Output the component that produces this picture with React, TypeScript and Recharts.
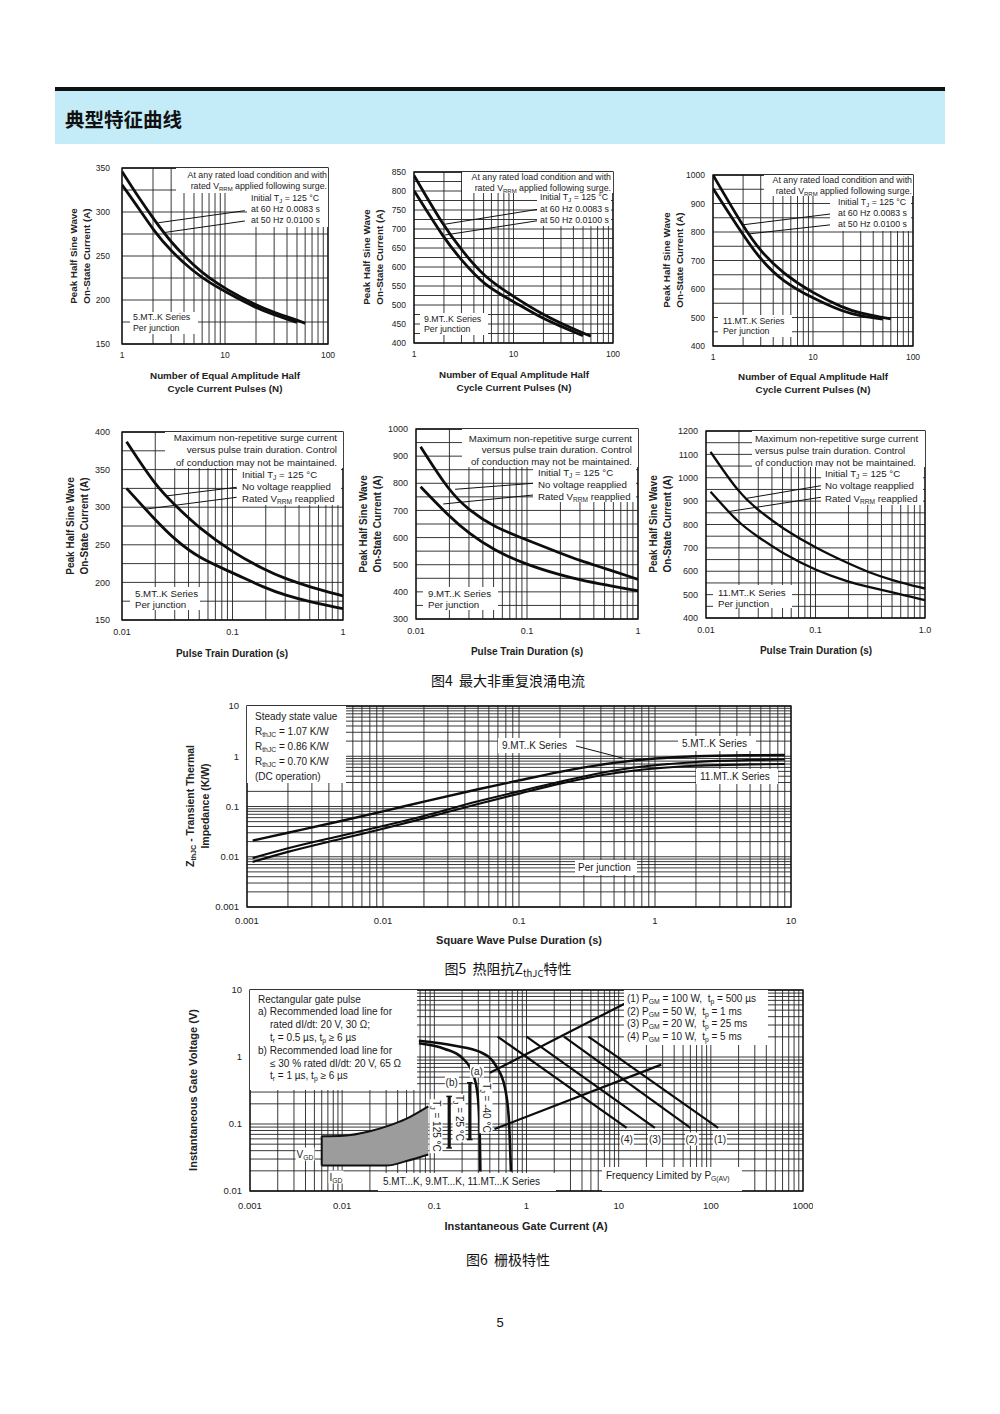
import React from 'react';
import { ComposedChart, Line, Area, XAxis, YAxis, CartesianGrid, ReferenceLine, ReferenceArea } from 'recharts';

type Pt = [number, number];

// ---- Fig 4: surge current vs number of half cycles ----
const cycleTicks = [1, 10, 100];
const mt5Cycle60: Pt[] = [[1, 346], [1.5, 314], [2, 293], [3, 265], [5, 239], [7, 225], [10, 213], [20, 194], [30, 186], [50, 177], [60, 173.5]];
const mt5Cycle50: Pt[] = [[1, 331], [1.5, 302], [2, 280], [3, 255], [5, 232], [7, 220], [10, 209.5], [20, 191], [30, 183], [50, 174.5]];
const mt9Cycle60: Pt[] = [[1, 841], [2, 706], [3, 645], [5, 575], [10, 522], [20, 474], [30, 452], [50, 426], [60, 418]];
const mt9Cycle50: Pt[] = [[1, 801], [2, 675], [3, 618], [5, 553], [10, 509], [20, 463], [30, 444], [50, 419]];
const mt11Cycle60: Pt[] = [[1, 1000], [2, 819], [3, 731], [5, 655], [10, 585], [20, 534], [30, 514], [50, 500], [60, 495]];
const mt11Cycle50: Pt[] = [[1, 953], [2, 789], [3, 702], [5, 626], [10, 567], [20, 520], [30, 505], [50, 494]];

// ---- Fig 4: surge current vs pulse train duration ----
const trainTicks = [0.01, 0.1, 1];
const mt5TrainNoV: Pt[] = [[0.011, 387], [0.02, 329], [0.03, 303], [0.05, 272], [0.1, 240], [0.2, 216], [0.3, 205], [0.5, 194], [1, 182]];
const mt5TrainRated: Pt[] = [[0.011, 325], [0.02, 283], [0.03, 257], [0.05, 232], [0.1, 213], [0.2, 192], [0.3, 183], [0.5, 174], [1, 165]];
const mt9TrainNoV: Pt[] = [[0.011, 935], [0.02, 769], [0.03, 701], [0.05, 640], [0.1, 591], [0.2, 542], [0.3, 515], [0.5, 487], [1, 446]];
const mt9TrainRated: Pt[] = [[0.011, 787], [0.02, 677], [0.03, 615], [0.05, 554], [0.1, 499], [0.2, 462], [0.3, 444], [0.5, 426], [1, 404]];
const mt11TrainNoV: Pt[] = [[0.011, 1111], [0.02, 933], [0.03, 861], [0.05, 783], [0.1, 700], [0.2, 633], [0.3, 597], [0.5, 561], [1, 526]];
const mt11TrainRated: Pt[] = [[0.011, 940], [0.02, 804], [0.03, 747], [0.05, 676], [0.1, 604], [0.2, 554], [0.3, 533], [0.5, 511], [1, 476]];

// ---- Fig 5: transient thermal impedance ----
const zthTicks = [0.001, 0.01, 0.1, 1, 10];
const zthMt5: Pt[] = [[0.0011, 0.021], [0.002, 0.03], [0.005, 0.052], [0.01, 0.08], [0.02, 0.125], [0.05, 0.22], [0.1, 0.33], [0.2, 0.49], [0.5, 0.74], [1, 0.9], [2, 1.0], [5, 1.05], [9, 1.06]];
const zthMt9: Pt[] = [[0.0011, 0.0094], [0.002, 0.0147], [0.005, 0.0265], [0.01, 0.041], [0.02, 0.065], [0.05, 0.127], [0.1, 0.2], [0.2, 0.31], [0.5, 0.52], [1, 0.66], [2, 0.77], [5, 0.84], [9, 0.86]];
const zthMt11: Pt[] = [[0.0011, 0.0079], [0.002, 0.0125], [0.005, 0.023], [0.01, 0.036], [0.02, 0.058], [0.05, 0.112], [0.1, 0.18], [0.2, 0.285], [0.5, 0.46], [1, 0.57], [2, 0.645], [5, 0.69], [9, 0.7]];

// ---- Fig 6: gate characteristics ----
const gateXTicks = [0.001, 0.01, 0.1, 1, 10, 100, 1000];
const gateYTicks = [0.01, 0.1, 1, 10];
const gateInner: Pt[] = [[0.068, 1.6], [0.13, 1.32], [0.2, 0.97], [0.256, 0.6], [0.29, 0.325], [0.308, 0.116], [0.316, 0.0196]];
const gateOuter: Pt[] = [[0.068, 1.75], [0.167, 1.47], [0.313, 1.19], [0.466, 0.74], [0.583, 0.35], [0.644, 0.116], [0.678, 0.0196]];
const gateLoadA: Pt[] = [[0.4, 0.58], [11.7, 6.3]];
const gateLoadB: Pt[] = [[0.45, 0.084], [29, 0.77]];
const gatePow1: Pt[] = [[4.7, 2.02], [120, 0.0875]];
const gatePow2: Pt[] = [[2.55, 2.02], [60, 0.0875]];
const gatePow3: Pt[] = [[1.0, 2.02], [24.7, 0.0875]];
const gatePow4: Pt[] = [[0.486, 2.02], [12.2, 0.0875]];
// x, low, high of the V_GD / I_GD region
const gdBand: [number, number, number][] = [[0.006, 0.024, 0.0656], [0.0103, 0.024, 0.0668], [0.02, 0.024, 0.078], [0.0304, 0.024, 0.092], [0.05, 0.028, 0.12], [0.086, 0.035, 0.183]];
// x, low, high of the T_J markers
const tjBars: [number, number, number][] = [[0.145, 0.044, 0.258], [0.243, 0.0586, 0.413]];

const logGrid = (lo: number, hi: number) => {
  const out: number[] = [];
  for (let e = lo; e < hi; e++) for (let k = 1; k < 10; k++) out.push(+(k * Math.pow(10, e)).toPrecision(3));
  out.push(+Math.pow(10, hi).toPrecision(3));
  return out;
};
const steps = (a: number, b: number, s: number) => {
  const out: number[] = [];
  for (let v = a; v <= b; v += s) out.push(v);
  return out;
};
const toObj = (pts: Pt[]) => pts.map(([x, y]) => ({ x, y }));

const ML = 60, MT = 6, MR = 10, MB = 26;
const INK = '#1a1a1a';

type Series = { pts: Pt[]; w: number; curve?: 'monotone' | 'linear' | 'basis' };
type PanelProps = {
  left: number; top: number; w: number; h: number;
  xDomain: [number, number]; yDomain: [number, number]; yLog?: boolean;
  xTicks: number[]; yTicks: number[]; xGrid: number[]; yGrid: number[];
  series: Series[]; leaders?: [Pt, Pt][];
  fs: number; xGap: number; yGap: number;
  xFmt?: (v: number) => string;
  band?: [number, number, number][];
  bars?: [number, number, number][];
};

function Panel(p: PanelProps) {
  const tick = { fontSize: p.fs, fill: '#222' };
  return (
    <div style={{ position: 'absolute', left: p.left - ML, top: p.top - MT }}>
      <ComposedChart width={p.w + ML + MR} height={p.h + MT + MB} margin={{ top: MT, right: MR, bottom: 0, left: 0 }}>
        <CartesianGrid horizontalValues={p.yGrid} verticalValues={p.xGrid} stroke="#222" strokeWidth={0.9} />
        <XAxis dataKey="x" type="number" scale="log" domain={p.xDomain} allowDataOverflow ticks={p.xTicks} interval={0}
          tickLine={false} axisLine={false} tickSize={6} tickMargin={p.xGap} height={MB} tick={tick} tickFormatter={p.xFmt} />
        <YAxis type="number" scale={p.yLog ? 'log' : 'linear'} domain={p.yDomain} allowDataOverflow ticks={p.yTicks} interval={0}
          tickLine={false} axisLine={false} tickSize={6} tickMargin={p.yGap} width={ML} tick={tick} />
        {p.band && (
          <Area data={p.band.map(([x, lo, hi]) => ({ x, r: [lo, hi] }))} dataKey="r" type="monotone" fill="#9c9c9c" fillOpacity={1}
            stroke="#111" strokeWidth={2} isAnimationActive={false} />
        )}
        {p.band && (
          <ReferenceLine segment={[{ x: p.band[0][0], y: p.band[0][1] }, { x: p.band[0][0], y: p.band[0][2] }]} stroke="#111" strokeWidth={2} />
        )}
        {(p.bars || []).map(([x, lo, hi], i) => (
          <ReferenceLine key={'b' + i} segment={[{ x, y: lo }, { x, y: hi }]} stroke="#111" strokeWidth={3.2} />
        ))}
        {(p.bars || []).map(([x, lo], i) => (
          <ReferenceLine key={'bl' + i} segment={[{ x: x * 0.93, y: lo }, { x: x * 1.07, y: lo }]} stroke="#111" strokeWidth={1.5} />
        ))}
        {(p.bars || []).map(([x, , hi], i) => (
          <ReferenceLine key={'bh' + i} segment={[{ x: x * 0.93, y: hi }, { x: x * 1.07, y: hi }]} stroke="#111" strokeWidth={1.5} />
        ))}
        {(p.leaders || []).map(([a, b], i) => (
          <ReferenceLine key={'l' + i} segment={[{ x: a[0], y: a[1] }, { x: b[0], y: b[1] }]} stroke="#111" strokeWidth={1} />
        ))}
        {p.series.map((s, i) => (
          <Line key={'s' + i} data={toObj(s.pts)} dataKey="y" type={s.curve || 'basis'} stroke="#0d0d0d" strokeWidth={s.w}
            dot={false} activeDot={false} isAnimationActive={false} />
        ))}
        <ReferenceArea x1={p.xDomain[0]} x2={p.xDomain[1]} y1={p.yDomain[0]} y2={p.yDomain[1]} fill="none" stroke="#111" strokeWidth={1.3} />
      </ComposedChart>
    </div>
  );
}

const Sub = ({ children }: { children: React.ReactNode }) => (
  <span style={{ fontSize: '0.68em', verticalAlign: '-0.35em', lineHeight: 0 }}>{children}</span>
);

type NoteProps = { x: number; y: number; w: number; h: number; tx: number; ty: number; lh: number; fs: number; right?: boolean; lines: React.ReactNode[] };
function Note({ x, y, w, h, tx, ty, lh, fs, right, lines }: NoteProps) {
  const pos = right ? { right: x + w - tx, textAlign: 'right' as const } : { left: tx - x };
  return (
    <div style={{ position: 'absolute', left: x, top: y, width: w, height: h, background: '#fff' }}>
      <div style={{ position: 'absolute', top: ty - lh / 2 - y, fontSize: fs, lineHeight: lh + 'px', whiteSpace: 'nowrap', ...pos }}>
        {lines.map((l, i) => <div key={i}>{l}</div>)}
      </div>
    </div>
  );
}

function Tag({ cx, cy, fs, rot, children }: { cx: number; cy: number; fs: number; rot?: number; children: React.ReactNode }) {
  return (
    <div style={{ position: 'absolute', left: cx, top: cy, transform: `translate(-50%,-50%) rotate(${rot || 0}deg)`, background: '#fff',
      fontSize: fs, lineHeight: fs + 3 + 'px', padding: '0 1px', whiteSpace: 'nowrap' }}>{children}</div>
  );
}

function HTitle({ cx, cy, fs, lh, lines }: { cx: number; cy: number; fs: number; lh: number; lines: React.ReactNode[] }) {
  return (
    <div style={{ position: 'absolute', left: cx, top: cy, transform: 'translate(-50%,-50%)', fontSize: fs, lineHeight: lh + 'px',
      fontWeight: 'bold', textAlign: 'center', whiteSpace: 'nowrap', color: '#222' }}>
      {lines.map((l, i) => <div key={i}>{l}</div>)}
    </div>
  );
}

function VTitle({ cx, cy, fs, lh, lines }: { cx: number; cy: number; fs: number; lh: number; lines: React.ReactNode[] }) {
  return (
    <div style={{ position: 'absolute', left: cx, top: cy, transform: 'translate(-50%,-50%) rotate(-90deg)', fontSize: fs, lineHeight: lh + 'px',
      fontWeight: 'bold', textAlign: 'center', whiteSpace: 'nowrap', color: '#222' }}>
      {lines.map((l, i) => <div key={i}>{l}</div>)}
    </div>
  );
}

const Caption = ({ cy, children }: { cy: number; children: React.ReactNode }) => (
  <div style={{ position: 'absolute', left: 508, top: cy, transform: 'translate(-50%,-50%)', fontFamily: "'Noto Sans CJK SC', sans-serif",
    fontSize: 14, whiteSpace: 'nowrap', color: '#111' }}>{children}</div>
);

const cycleA = ['At any rated load condition and with', <span>rated V<Sub>RRM</Sub> applied following surge.</span>];
const cycleB = [<span>Initial T<Sub>J</Sub> = 125 °C</span>, 'at 60 Hz 0.0083 s', 'at 50 Hz 0.0100 s'];
const trainA = ['Maximum non-repetitive surge current', 'versus pulse train duration. Control', 'of conduction may not be maintained.'];
const trainB = [<span>Initial T<Sub>J</Sub> = 125 °C</span>, 'No voltage reapplied', <span>Rated V<Sub>RRM</Sub> reapplied</span>];
const cycleTitle = ['Number of Equal Amplitude Half', 'Cycle Current Pulses (N)'];
const surgeYTitle = ['Peak Half Sine Wave', 'On-State Current (A)'];

export default function App() {
  const cfs = 8.8;
  const cycleGrid = logGrid(0, 2);
  const trainGrid = logGrid(-2, 0);
  return (
    <div style={{ position: 'absolute', left: 0, top: 0, width: 1000, height: 1414, background: '#fff', overflow: 'hidden',
      fontFamily: "'Liberation Sans', Arial, sans-serif", color: INK }}>
      {/* header */}
      <div style={{ position: 'absolute', left: 55, top: 87, width: 890, height: 3.5, background: '#111' }} />
      <div style={{ position: 'absolute', left: 55, top: 90.5, width: 890, height: 53, background: '#c4ebf8' }} />
      <div style={{ position: 'absolute', left: 65, top: 118, transform: 'translateY(-50%)', fontFamily: "'Noto Sans CJK SC', sans-serif",
        fontWeight: 'bold', fontSize: 19.5, color: '#111' }}>典型特征曲线</div>

      {/* Fig 4 row 1 */}
      <Panel left={122} top={168} w={206} h={176} xDomain={[1, 100]} yDomain={[150, 350]} xTicks={cycleTicks} yTicks={steps(150, 350, 50)}
        xGrid={cycleGrid} yGrid={steps(150, 350, 25)} fs={8.5} xGap={2} yGap={6}
        series={[{ pts: mt5Cycle60, w: 2.8 }, { pts: mt5Cycle50, w: 2.8 }]}
        leaders={[[[15.6, 301.5], [2.25, 287.8]], [[15.6, 289.8], [2.52, 276.5]]]} />
      <Note x={176} y={168} w={152} h={25} tx={327} ty={175} lh={11} fs={cfs} right lines={cycleA} />
      <Note x={247} y={193} w={81} h={34} tx={251} ty={198} lh={11} fs={cfs} lines={cycleB} />
      <Note x={130} y={312} w={68} h={22} tx={133} ty={317} lh={11} fs={cfs} lines={['5.MT..K Series', 'Per junction']} />
      <HTitle cx={225} cy={381.5} fs={9.8} lh={13} lines={cycleTitle} />
      <VTitle cx={79.5} cy={256} fs={9.8} lh={13} lines={surgeYTitle} />

      <Panel left={414} top={172} w={199} h={171} xDomain={[1, 100]} yDomain={[400, 850]} xTicks={cycleTicks} yTicks={steps(400, 850, 50)}
        xGrid={cycleGrid} yGrid={steps(400, 850, 25)} fs={8.5} xGap={2} yGap={2}
        series={[{ pts: mt9Cycle60, w: 2.8 }, { pts: mt9Cycle50, w: 2.8 }]}
        leaders={[[[17.5, 751.8], [2.02, 712.4]], [[17.5, 721.8], [2.05, 684.2]]]} />
      <Note x={462} y={172} w={151} h={21} tx={611} ty={177} lh={11} fs={cfs} right lines={cycleA} />
      <Note x={537} y={193} w={74} h={33} tx={540} ty={198} lh={11.3} fs={cfs} lines={cycleB} />
      <Note x={420} y={313} w={68} h={22} tx={424} ty={319} lh={10.5} fs={cfs} lines={['9.MT..K Series', 'Per junction']} />
      <HTitle cx={514} cy={380.5} fs={9.8} lh={13} lines={cycleTitle} />
      <VTitle cx={372.5} cy={257} fs={9.8} lh={13} lines={surgeYTitle} />

      <Panel left={713} top={175} w={200} h={171} xDomain={[1, 100]} yDomain={[400, 1000]} xTicks={cycleTicks} yTicks={steps(400, 1000, 100)}
        xGrid={cycleGrid} yGrid={steps(400, 1000, 50)} fs={8.5} xGap={2} yGap={2}
        series={[{ pts: mt11Cycle60, w: 2.8 }, { pts: mt11Cycle50, w: 2.8 }]}
        leaders={[[[14.8, 863], [1.96, 825]], [[14.8, 825], [2.25, 793]]]} />
      <Note x={764} y={175} w={149} h={21} tx={912} ty={180} lh={11} fs={cfs} right lines={cycleA} />
      <Note x={830} y={196} w={81} h={35} tx={838} ty={202} lh={11} fs={cfs} lines={cycleB} />
      <Note x={718} y={315} w={74} h={22} tx={723} ty={321} lh={10.7} fs={cfs} lines={['11.MT..K Series', 'Per junction']} />
      <HTitle cx={813} cy={382.5} fs={9.8} lh={13} lines={cycleTitle} />
      <VTitle cx={672.5} cy={260} fs={9.8} lh={13} lines={surgeYTitle} />

      {/* Fig 4 row 2 */}
      <Panel left={122} top={432} w={221} h={188} xDomain={[0.01, 1]} yDomain={[150, 400]} xTicks={trainTicks} yTicks={steps(150, 400, 50)}
        xGrid={trainGrid} yGrid={steps(150, 400, 25)} fs={9} xGap={3} yGap={6}
        series={[{ pts: mt5TrainNoV, w: 2.8 }, { pts: mt5TrainRated, w: 2.8 }]}
        leaders={[[[0.109, 326.5], [0.025, 314.9]], [[0.109, 313.2], [0.0159, 297.2]]]} />
      <Note x={165} y={432} w={178} h={36} tx={337} ty={438} lh={12.4} fs={9.7} right lines={trainA} />
      <Note x={237} y={468} w={104} h={37} tx={242} ty={475} lh={12} fs={9.7} lines={trainB} />
      <Note x={130} y={587} w={70} h={23} tx={135} ty={593} lh={11} fs={9.7} lines={['5.MT..K Series', 'Per junction']} />
      <HTitle cx={232} cy={653} fs={10} lh={13} lines={['Pulse Train Duration (s)']} />
      <VTitle cx={78} cy={526} fs={10} lh={14} lines={surgeYTitle} />

      <Panel left={416} top={429} w={222} h={190} xDomain={[0.01, 1]} yDomain={[300, 1000]} xTicks={trainTicks} yTicks={steps(300, 1000, 100)}
        xGrid={trainGrid} yGrid={steps(300, 1000, 50)} fs={9} xGap={3} yGap={2}
        series={[{ pts: mt9TrainNoV, w: 2.8 }, { pts: mt9TrainRated, w: 2.8 }]}
        leaders={[[[0.114, 800], [0.0225, 777.8]], [[0.114, 756.8], [0.0176, 723.7]]]} />
      <Note x={462} y={429} w={176} h={38} tx={632} ty={438.5} lh={11.7} fs={9.7} right lines={trainA} />
      <Note x={533} y={467} w={103} h={35} tx={538} ty={472.5} lh={12} fs={9.7} lines={trainB} />
      <Note x={423} y={587} w={75} h={23} tx={428} ty={593} lh={11} fs={9.7} lines={['9.MT..K Series', 'Per junction']} />
      <HTitle cx={527} cy={651} fs={10} lh={13} lines={['Pulse Train Duration (s)']} />
      <VTitle cx={371} cy={524} fs={10} lh={14} lines={surgeYTitle} />

      <Panel left={706} top={431} w={219} h={187} xDomain={[0.01, 1]} yDomain={[400, 1200]} xTicks={trainTicks} yTicks={steps(400, 1200, 100)}
        xGrid={trainGrid} yGrid={steps(400, 1200, 50)} fs={9} xGap={3} yGap={2} xFmt={(v) => (v === 1 ? '1.0' : String(v))}
        series={[{ pts: mt11TrainNoV, w: 2.3 }, { pts: mt11TrainRated, w: 2.3 }]}
        leaders={[[[0.112, 966], [0.0235, 912]], [[0.112, 916.4], [0.0158, 854.8]]]} />
      <Note x={752} y={431} w={173} h={36} tx={755} ty={438.5} lh={12} fs={9.7} lines={trainA} />
      <Note x={821} y={467} w={102} h={38} tx={825} ty={474} lh={12.5} fs={9.7} lines={trainB} />
      <Note x={713} y={585} w={79} h={23} tx={718} ty={592} lh={11} fs={9.7} lines={['11.MT..K Series', 'Per junction']} />
      <HTitle cx={816} cy={650} fs={10} lh={13} lines={['Pulse Train Duration (s)']} />
      <VTitle cx={661} cy={524} fs={10} lh={14} lines={surgeYTitle} />

      <Caption cy={680}>图4&nbsp;&nbsp;最大非重复浪涌电流</Caption>

      {/* Fig 5 */}
      <Panel left={247} top={706} w={544} h={201} xDomain={[0.001, 10]} yDomain={[0.001, 10]} yLog xTicks={zthTicks} yTicks={zthTicks}
        xGrid={logGrid(-3, 1)} yGrid={logGrid(-3, 1)} fs={9.5} xGap={4} yGap={2}
        series={[{ pts: zthMt5, w: 2.4, curve: 'monotone' }, { pts: zthMt9, w: 2.1, curve: 'monotone' }, { pts: zthMt11, w: 2.1, curve: 'monotone' }]}
        leaders={[[[0.258, 1.62], [0.585, 0.91]]]} />
      <Note x={247} y={706} w={99} h={77} tx={255} ty={716} lh={15} fs={10}
        lines={['Steady state value', <span>R<Sub>thJC</Sub> = 1.07 K/W</span>, <span>R<Sub>thJC</Sub> = 0.86 K/W</span>,
          <span>R<Sub>thJC</Sub> = 0.70 K/W</span>, '(DC operation)']} />
      <Note x={498} y={738} w={78} h={15} tx={502} ty={745} lh={13} fs={10} lines={['9.MT..K Series']} />
      <Note x={678} y={736} w={78} h={15} tx={682} ty={743} lh={13} fs={10} lines={['5.MT..K Series']} />
      <Note x={696} y={769} w={82} h={15} tx={700} ty={776} lh={13} fs={10} lines={['11.MT..K Series']} />
      <Note x={575} y={860} w={62} h={15} tx={578} ty={867} lh={13} fs={10} lines={['Per junction']} />
      <HTitle cx={519} cy={940} fs={11} lh={14} lines={['Square Wave Pulse Duration (s)']} />
      <VTitle cx={197.5} cy={806} fs={10.5} lh={15} lines={[<span>Z<Sub>thJC</Sub> - Transient Thermal</span>, 'Impedance (K/W)']} />
      <Caption cy={968}>图5&nbsp;&nbsp;热阻抗Z<Sub>thJC</Sub>特性</Caption>

      {/* Fig 6 */}
      <Panel left={250} top={990} w={553} h={201} xDomain={[0.001, 1000]} yDomain={[0.01, 10]} yLog xTicks={gateXTicks} yTicks={gateYTicks}
        xGrid={logGrid(-3, 3)} yGrid={logGrid(-2, 1)} fs={9.5} xGap={5} yGap={2}
        band={gdBand} bars={tjBars}
        series={[
          { pts: gateInner, w: 2.6, curve: 'monotone' }, { pts: gateOuter, w: 2.6, curve: 'monotone' },
          { pts: gateLoadA, w: 2.2, curve: 'linear' }, { pts: gateLoadB, w: 2.2, curve: 'linear' },
          { pts: gatePow1, w: 2.2, curve: 'linear' }, { pts: gatePow2, w: 2.2, curve: 'linear' },
          { pts: gatePow3, w: 2.2, curve: 'linear' }, { pts: gatePow4, w: 2.2, curve: 'linear' },
        ]} />
      <Note x={250} y={990} w={167} h={100} tx={258} ty={1000} lh={12.8} fs={10}
        lines={['Rectangular gate pulse', 'a) Recommended load line for',
          <span style={{ paddingLeft: 12 }}>rated dI/dt: 20 V, 30 Ω;</span>,
          <span style={{ paddingLeft: 12 }}>t<Sub>r</Sub> = 0.5 µs, t<Sub>p</Sub> ≥ 6 µs</span>,
          'b) Recommended load line for',
          <span style={{ paddingLeft: 12 }}>≤ 30 % rated dI/dt: 20 V, 65 Ω</span>,
          <span style={{ paddingLeft: 12 }}>t<Sub>r</Sub> = 1 µs, t<Sub>p</Sub> ≥ 6 µs</span>]} />
      <Note x={624} y={990} w={144} h={55} tx={627} ty={999.5} lh={12.6} fs={10}
        lines={[<span>(1) P<Sub>GM</Sub> = 100 W,&nbsp; t<Sub>p</Sub> = 500 µs</span>, <span>(2) P<Sub>GM</Sub> = 50 W,&nbsp; t<Sub>p</Sub> = 1 ms</span>,
          <span>(3) P<Sub>GM</Sub> = 20 W,&nbsp; t<Sub>p</Sub> = 25 ms</span>, <span>(4) P<Sub>GM</Sub> = 10 W,&nbsp; t<Sub>p</Sub> = 5 ms</span>]} />
      <Note x={602} y={1167} w={140} h={24} tx={606} ty={1175} lh={13} fs={10} lines={[<span>Frequency Limited by P<Sub>G(AV)</Sub></span>]} />
      <Note x={378} y={1173} w={178} h={18} tx={383} ty={1181} lh={13} fs={10} lines={['5.MT...K, 9.MT...K, 11.MT...K Series']} />
      <Tag cx={305} cy={1154} fs={10}>V<Sub>GD</Sub></Tag>
      <Tag cx={336} cy={1177} fs={10}>I<Sub>GD</Sub></Tag>
      <Tag cx={476.7} cy={1070.5} fs={10}>(a)</Tag>
      <Tag cx={451.7} cy={1081.5} fs={10}>(b)</Tag>
      <Tag cx={720} cy={1139} fs={10}>(1)</Tag>
      <Tag cx={691.5} cy={1139} fs={10}>(2)</Tag>
      <Tag cx={655} cy={1139} fs={10}>(3)</Tag>
      <Tag cx={626.7} cy={1139} fs={10}>(4)</Tag>
      <Tag cx={436} cy={1126} fs={10} rot={90}>T<Sub>J</Sub> = 125 °C</Tag>
      <Tag cx={459} cy={1118} fs={10} rot={90}>T<Sub>J</Sub> = 25 °C</Tag>
      <Tag cx={486} cy={1108} fs={10} rot={90}>T<Sub>J</Sub> = -40 °C</Tag>
      <HTitle cx={526} cy={1226} fs={11} lh={14} lines={['Instantaneous Gate Current (A)']} />
      <VTitle cx={193} cy={1090} fs={11} lh={14} lines={['Instantaneous Gate Voltage (V)']} />
      <Caption cy={1259}>图6&nbsp;&nbsp;栅极特性</Caption>

      <div style={{ position: 'absolute', left: 500, top: 1322, transform: 'translate(-50%,-50%)', fontSize: 13, color: '#111' }}>5</div>
    </div>
  );
}
